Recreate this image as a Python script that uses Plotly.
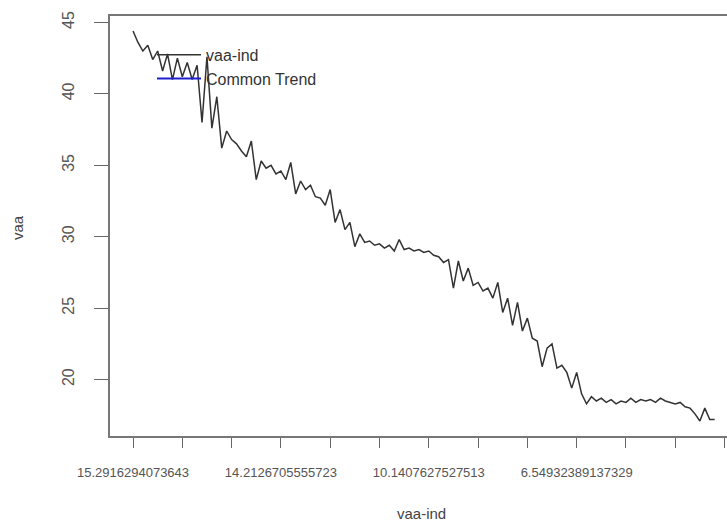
import plotly.graph_objects as go

# series values (index 1..119)
vaa = [44.4, 43.6, 43.0, 43.4, 42.4, 43.0, 41.6, 42.8, 41.0, 42.5,
       41.2, 42.2, 41.0, 42.0, 38.0, 42.6, 37.6, 39.8, 36.2, 37.4,
       36.8, 36.5, 36.0, 35.6, 36.7, 34.0, 35.3, 34.8, 35.0, 34.4,
       34.6, 34.0, 35.2, 33.0, 33.9, 33.3, 33.6, 32.8, 32.7, 32.2,
       33.3, 31.0, 31.9, 30.5, 31.0, 29.3, 30.2, 29.6, 29.7, 29.4,
       29.5, 29.2, 29.4, 29.0, 29.8, 29.1, 29.2, 29.0, 29.1, 28.9,
       29.0, 28.7, 28.6, 28.2, 28.4, 26.4, 28.3, 26.9, 27.8, 26.6,
       26.8, 26.2, 26.4, 25.7, 26.8, 24.7, 25.7, 23.8, 25.4, 23.4,
       24.3, 22.9, 22.7, 20.9, 22.2, 22.5, 20.8, 21.0, 20.5, 19.4,
       20.5, 19.0, 18.3, 18.8, 18.5, 18.7, 18.4, 18.6, 18.3, 18.5,
       18.4, 18.7, 18.4, 18.6, 18.5, 18.6, 18.4, 18.7, 18.5, 18.4,
       18.3, 18.4, 18.1, 18.0, 17.6, 17.1, 18.0, 17.2, 17.2]
index = list(range(1, len(vaa) + 1))

tick_positions = [1, 11, 21, 31, 41, 51, 61, 71, 81, 91, 101, 111, 121]
tick_labels = ["15.2916294073643", "", "", "14.2126705555723", "", "",
               "10.1407627527513", "", "", "6.54932389137329", "", "", ""]
y_ticks = [20, 25, 30, 35, 40, 45]

fig = go.Figure()
fig.add_trace(go.Scatter(x=index, y=vaa, mode="lines", name="vaa-ind",
                         line=dict(color="#333333", width=1.5)))
fig.add_trace(go.Scatter(x=[index[0]], y=[None], mode="lines", name="Common Trend",
                         line=dict(color="#1f1fd0", width=2)))

fig.update_layout(
    width=727, height=522,
    margin=dict(l=110, r=0, t=16, b=86),
    paper_bgcolor="white", plot_bgcolor="white",
    font=dict(family="Liberation Sans, Arial, sans-serif", color="#444"),
    showlegend=True,
    legend=dict(x=(152 - 110) / 617, y=0.948, xanchor="left", yanchor="top",
                bgcolor="rgba(0,0,0,0)", font=dict(size=16, color="#333"),
                itemwidth=44, tracegroupgap=0),
    xaxis=dict(range=[-3.67, 121.5], tickmode="array", tickvals=tick_positions,
               ticktext=tick_labels, ticks="outside", ticklen=10, tickwidth=1.2,
               tickcolor="#666", showgrid=False, zeroline=False,
               showline=True, linecolor="#777", linewidth=1.5, mirror=True,
               tickfont=dict(size=13, color="#555"), ticklabelstandoff=14),
    yaxis=dict(range=[16.05, 45.45], tickmode="array", tickvals=y_ticks,
               ticks="outside", ticklen=14, tickwidth=1.2, tickcolor="#666",
               showgrid=False, zeroline=False, showline=True, linecolor="#777",
               linewidth=1.5, tickangle=-90, tickfont=dict(size=16, color="#555"),
               ticklabelstandoff=14),
    annotations=[
        dict(text="vaa", x=17, y=227, xref="paper", yref="paper", showarrow=False,
             textangle=-90, font=dict(size=15, color="#444")),
        dict(text="vaa-ind", x=421, y=513, xref="paper", yref="paper", showarrow=False,
             font=dict(size=15, color="#444")),
    ],
)
# convert pixel-placed annotation positions to paper coordinates
anns = []
for a in fig.layout.annotations:
    px, py = a.x, a.y
    a.x = (px - 110) / 617
    a.y = 1 - (py - 16) / 420
    a.xanchor = "center"
    a.yanchor = "middle"
    anns.append(a)
fig.layout.annotations = anns

fig.write_html("out.html")
